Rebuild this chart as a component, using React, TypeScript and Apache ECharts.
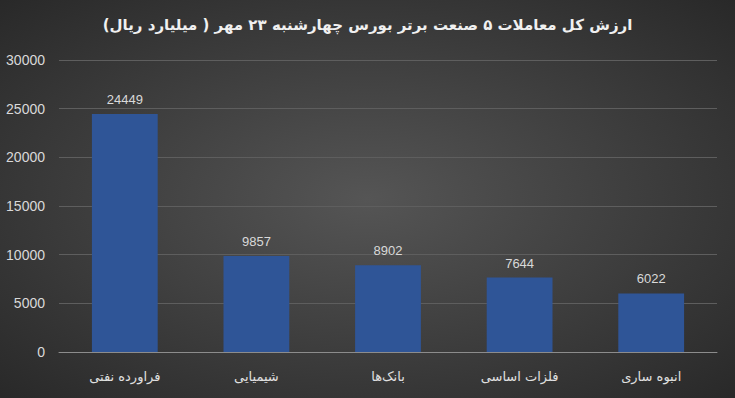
import React, { useEffect, useRef } from "react";
import * as echarts from "echarts";

const title = "ارزش کل معاملات ۵ صنعت برتر بورس چهارشنبه ۲۳ مهر ( میلیارد ریال)";
const categories = ["فراورده نفتی", "شیمیایی", "بانک‌ها", "فلزات اساسی", "انبوه ساری"];
const values = [24449, 9857, 8902, 7644, 6022];
const yMin = 0;
const yMax = 30000;
const yInterval = 5000;

export default function App() {
  const ref = useRef<HTMLDivElement>(null);
  useEffect(() => {
    if (!ref.current) return;
    const chart = echarts.init(ref.current, undefined, { renderer: "svg" });
    chart.setOption({
      animation: false,
      backgroundColor: {
        type: "radial",
        x: 0.5,
        y: 0.5,
        r: 0.75,
        colorStops: [
          { offset: 0, color: "#555555" },
          { offset: 1, color: "#262626" },
        ],
      },
      title: {
        text: title,
        left: "center",
        top: 12,
        textStyle: {
          color: "#f0f0f0",
          fontSize: 15,
          fontWeight: "bold",
          fontFamily: "DejaVu Sans",
        },
      },
      grid: { left: 59, right: 18, top: 60, bottom: 46, containLabel: false },
      xAxis: {
        type: "category",
        data: categories,
        axisLine: { lineStyle: { color: "#8c8c8c", width: 1 } },
        axisTick: { show: false },
        axisLabel: {
          color: "#e0e0e0",
          fontSize: 13,
          fontFamily: "DejaVu Sans",
          margin: 18,
        },
      },
      yAxis: {
        type: "value",
        min: yMin,
        max: yMax,
        interval: yInterval,
        axisLine: { show: false },
        axisTick: { show: false },
        splitLine: { lineStyle: { color: "#5e5e5e", width: 1 } },
        axisLabel: {
          color: "#d9d9d9",
          fontSize: 14,
          fontFamily: "Liberation Sans",
          margin: 14,
          formatter: (v: number) => String(v),
        },
      },
      series: [
        {
          type: "bar",
          data: values,
          barWidth: "50%",
          itemStyle: { color: "#2f5597" },
          label: {
            show: true,
            position: "top",
            distance: 8,
            color: "#d9d9d9",
            fontSize: 13,
            fontFamily: "Liberation Sans",
          },
        },
      ],
    });
    return () => chart.dispose();
  }, []);
  return <div ref={ref} style={{ width: 735, height: 398, position: "absolute", left: 0, top: 0 }} />;
}
